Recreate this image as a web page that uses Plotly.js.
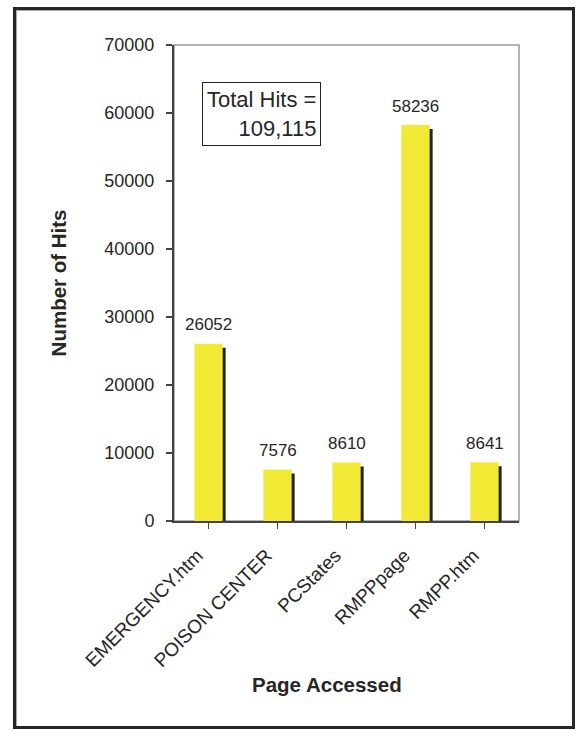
<!DOCTYPE html>
<html>
<head>
<meta charset="utf-8">
<script src="https://cdn.plot.ly/plotly-3.0.1.min.js"></script>
<style>
  html, body { margin: 0; padding: 0; background: #fff; }
  #wrap { position: relative; width: 577px; height: 730px; }
  #chart { position: absolute; left: 0; top: 0; width: 577px; height: 730px; }
  #frame { position: absolute; left: 13px; top: 7px; width: 556px; height: 716px;
           border: 3px solid #262626; box-shadow: inset 1px 1px 0 #aaa; pointer-events: none; }
</style>
</head>
<body>
<div id="wrap">
  <div id="chart"></div>
  <div id="frame"></div>
</div>
<script>
// ---- data ----
const pages = ["EMERGENCY.htm", "POISON CENTER", "PCStates", "RMPPpage", "RMPP.htm"];
const hits = [26052, 7576, 8610, 58236, 8641];
const totalLabel = "Total Hits =<br>109,115";
const yTicks = [0, 10000, 20000, 30000, 40000, 50000, 60000, 70000];

// ---- styling ----
const FONT = "Liberation Sans, Arial, sans-serif";
const TXT = "#262626";
const barWidth = 0.41;
const yMax = 70000;
// shadow offset: a few pixels right/down, expressed through a shifted overlay axis
const shiftX = 0.0435;   // category units (~3px)
const shiftY = 590;      // value units (~4px)

const idx = pages.map((_, i) => i);

const shadow = {
  type: "bar", x: idx, y: hits, width: barWidth,
  marker: { color: "#222222", line: { width: 0 } },
  xaxis: "x", yaxis: "y", hoverinfo: "skip", showlegend: false
};
const bars = {
  type: "bar", x: idx, y: hits, width: barWidth,
  marker: { color: "#F2E935", line: { width: 0 } },
  xaxis: "x2", yaxis: "y2", showlegend: false
};

const valueLabels = hits.map((v, i) => ({
  x: i, y: v, xref: "x2", yref: "y2", text: String(v), showarrow: false,
  yanchor: "middle", yshift: 19, font: { family: FONT, size: 17, color: TXT }
}));

const layout = {
  width: 577, height: 730,
  margin: { l: 174, r: 58, t: 45, b: 209 },
  paper_bgcolor: "#ffffff", plot_bgcolor: "#ffffff",
  font: { family: FONT, color: TXT },
  showlegend: false,
  xaxis: {
    range: [-0.5 - shiftX, pages.length - 0.5 - shiftX],
    visible: false, fixedrange: true
  },
  yaxis: {
    range: [shiftY, yMax + shiftY], visible: false, fixedrange: true
  },
  xaxis2: {
    overlaying: "x", anchor: "y2", side: "bottom",
    range: [-0.5, pages.length - 0.5],
    tickmode: "array", tickvals: idx, ticktext: pages,
    tickson: "boundaries", ticks: "outside", ticklen: 6, tickwidth: 1.5, tickcolor: "#444",
    tickangle: -45, tickfont: { family: FONT, size: 19, color: TXT },
    ticklabelstandoff: 8, ticklabelshift: -11,
    showline: true, linecolor: "#444", linewidth: 2,
    showgrid: false, zeroline: false
  },
  yaxis2: {
    overlaying: "y", anchor: "x2", side: "left",
    range: [0, yMax],
    tickmode: "array", tickvals: yTicks, ticktext: yTicks.map(String),
    ticks: "outside", ticklen: 6, tickwidth: 1.5, tickcolor: "#444",
    ticklabelstandoff: 8,
    tickfont: { family: FONT, size: 18, color: TXT },
    showline: true, linecolor: "#444", linewidth: 2,
    showgrid: false, zeroline: false
  },
  shapes: [{
    type: "rect", xref: "paper", yref: "paper", x0: 0, x1: 1, y0: 0, y1: 1,
    line: { color: "#9a9a9a", width: 1.5 }, layer: "below"
  }],
  annotations: valueLabels.concat([
    {
      xref: "paper", yref: "paper", x: 0.255, y: 0.854, text: totalLabel,
      showarrow: false, align: "right", xanchor: "center", yanchor: "middle",
      bordercolor: "#222", borderwidth: 1, borderpad: 4, bgcolor: "#fff",
      font: { family: FONT, size: 22, color: TXT }
    },
    {
      xref: "paper", yref: "paper", x: -0.335, y: 0.5, text: "<b>Number of Hits</b>",
      textangle: -90, showarrow: false, xanchor: "center", yanchor: "middle",
      font: { family: FONT, size: 20.5, color: TXT }
    },
    {
      xref: "paper", yref: "paper", x: 0.443, y: -0.344, text: "<b>Page Accessed</b>",
      showarrow: false, xanchor: "center", yanchor: "middle",
      font: { family: FONT, size: 20.5, color: TXT }
    }
  ])
};

Plotly.newPlot("chart", [shadow, bars], layout, { staticPlot: true, displayModeBar: false });
</script>
</body>
</html>
